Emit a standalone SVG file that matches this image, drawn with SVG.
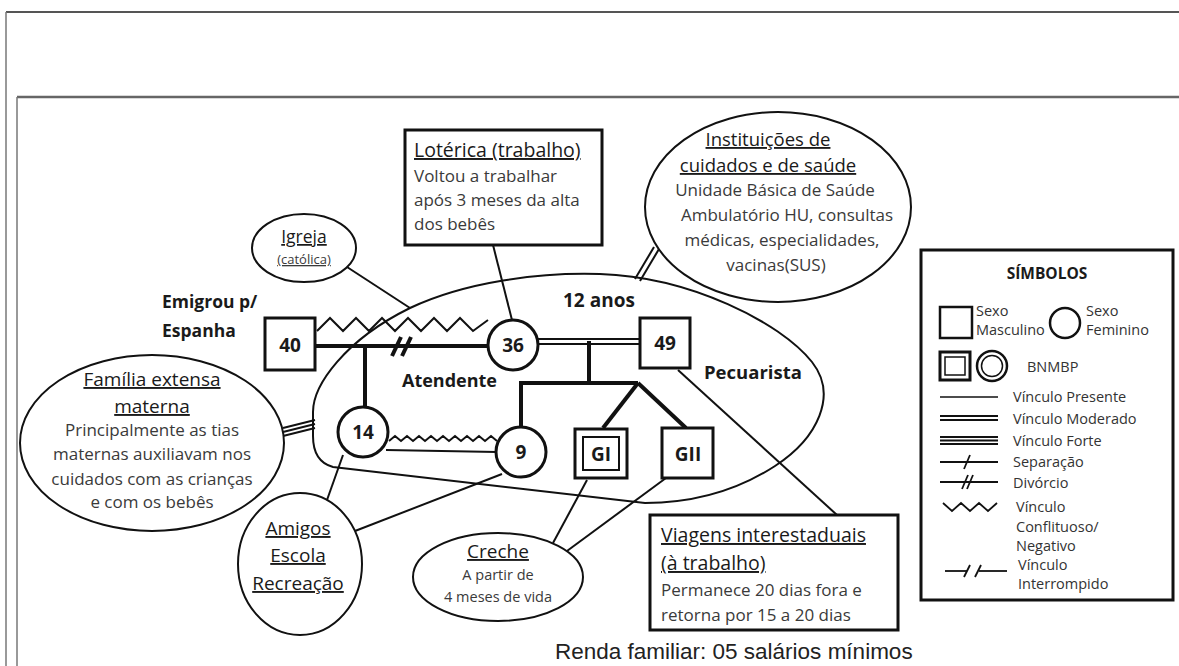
<svg xmlns="http://www.w3.org/2000/svg" width="1179" height="666" viewBox="0 0 1179 666">
<style>
.t{font-family:'Open Sans','Noto Sans','Liberation Sans',sans-serif;fill:#1a1a1a}
.b{font-weight:bold}
.u{text-decoration:underline}
.body{fill:#3a3a3a}
.c{text-anchor:middle}
.ln{stroke:#111;stroke-width:2;fill:none}
.th{stroke:#111;stroke-width:4;fill:none}
.nd{stroke:#111;stroke-width:3;fill:#fff}
.lg{font-family:'Open Sans','Noto Sans','Liberation Sans',sans-serif;fill:#333;font-size:14.5px}
</style>
<rect width="1179" height="666" fill="#fff"/>
<g id="frame">
<line x1="6" y1="12" x2="1179" y2="12" stroke="#555" stroke-width="2"/>
<line x1="6" y1="12" x2="6" y2="666" stroke="#777" stroke-width="1.5"/>
<line x1="17" y1="97" x2="1179" y2="97" stroke="#666" stroke-width="2.5"/>
<line x1="17" y1="97" x2="17" y2="666" stroke="#777" stroke-width="1.5"/>
</g>
<g id="connectors">
<path id="family-boundary" class="ln" d="M313,412 C313,385 345,340 410,308 C465,282 540,272 600,274 C690,277 780,322 812,362 C838,395 818,438 775,466 C735,492 690,503 645,503 L333,467 C318,463 313,450 313,436 Z"/>
<line class="ln" x1="347" y1="267" x2="410" y2="308"/>
<line class="ln" x1="493" y1="245" x2="512" y2="320"/>
<line class="ln" x1="635" y1="279" x2="654" y2="247"/>
<line class="ln" x1="640" y1="281" x2="659" y2="249"/>
<line class="ln" x1="283" y1="428" x2="315" y2="420" stroke-width="1.8"/>
<line class="ln" x1="283" y1="432" x2="315" y2="424" stroke-width="1.8"/>
<line class="ln" x1="283" y1="436" x2="315" y2="428" stroke-width="1.8"/>
<polyline class="ln" points="317,331 330,318 343,331 356,318 369,331 382,318 395,331 408,318 421,331 434,318 447,331 460,318 473,331 488,320"/>
<line class="th" x1="315" y1="346" x2="490" y2="346"/>
<line class="th" x1="392" y1="356" x2="401" y2="337" stroke-width="3"/>
<line class="th" x1="402" y1="356" x2="411" y2="337" stroke-width="3"/>
<line class="th" x1="365" y1="346" x2="365" y2="408"/>
<line class="ln" x1="538" y1="339" x2="640" y2="339"/>
<line class="ln" x1="538" y1="344" x2="640" y2="344"/>
<polyline class="th" points="589,341 589,383"/>
<polyline class="th" points="521,428 521,383 638,383"/>
<line class="th" x1="638" y1="383" x2="603" y2="428"/>
<line class="th" x1="638" y1="383" x2="686" y2="428"/>
<polyline class="ln" points="389,441 395,436 401,441 407,436 413,441 419,436 425,441 431,436 437,441 443,436 449,441 455,436 461,441 467,436 473,441 479,436 485,441 491,436 497,441"/>
<line class="ln" x1="386" y1="450" x2="497" y2="452"/>
<line class="ln" x1="678" y1="370" x2="837" y2="515"/>
<line class="ln" x1="587" y1="480" x2="553" y2="543"/>
<line class="ln" x1="666" y1="478" x2="567" y2="551"/>
<line class="ln" x1="502" y1="474" x2="355" y2="531"/>
<line class="ln" x1="343" y1="455" x2="327" y2="500"/>
</g>
<g id="igreja">
<ellipse class="ln" cx="304" cy="248" rx="52" ry="34"/>
<text class="t u c" x="304" y="243" font-size="17.5">Igreja</text>
<text class="t u c body" x="304" y="264" font-size="13">(católica)</text>
</g>
<g id="emigrou-label">
<text class="t b" x="162" y="308" font-size="17.5">Emigrou p/</text>
<text class="t b" x="162" y="337" font-size="17.5">Espanha</text>
</g>
<g id="loterica">
<rect class="nd" x="405" y="130" width="197" height="115"/>
<text class="t u" x="414" y="157" font-size="19.5">Lotérica (trabalho)</text>
<text class="t body" x="414" y="182" font-size="17">Voltou a trabalhar</text>
<text class="t body" x="414" y="206" font-size="17">após 3 meses da alta</text>
<text class="t body" x="414" y="230" font-size="17">dos bebês</text>
</g>
<g id="instituicoes">
<ellipse class="ln" cx="778" cy="207" rx="133" ry="95"/>
<text class="t u c" x="768" y="146" font-size="18.5">Instituições de</text>
<text class="t u c" x="768" y="172" font-size="18.5">cuidados e de saúde</text>
<text class="t c body" x="775" y="196" font-size="17">Unidade Básica de Saúde</text>
<text class="t c body" x="787" y="221" font-size="17">Ambulatório HU, consultas</text>
<text class="t c body" x="782" y="246" font-size="17">médicas, especialidades,</text>
<text class="t c body" x="776" y="271" font-size="17">vacinas(SUS)</text>
</g>
<g id="p40">
<rect class="nd" x="265" y="318" width="50" height="52" stroke-width="3.5"/>
<text class="t b c" x="290" y="352" font-size="19">40</text>
</g>
<g id="p36">
<circle class="nd" cx="513" cy="345" r="25"/>
<text class="t b c" x="513" y="352" font-size="19">36</text>
</g>
<g id="p49">
<rect class="nd" x="640" y="318" width="50" height="50" stroke-width="3.5"/>
<text class="t b c" x="665" y="350" font-size="19">49</text>
</g>
<g id="p14">
<circle class="nd" cx="363" cy="432" r="25"/>
<text class="t b c" x="363" y="439" font-size="19">14</text>
</g>
<g id="p9">
<circle class="nd" cx="521" cy="452" r="25"/>
<text class="t b c" x="521" y="459" font-size="19">9</text>
</g>
<g id="gI">
<rect class="nd" x="575" y="429" width="52" height="49" stroke-width="4"/>
<rect class="ln" x="583" y="437" width="36" height="33" stroke-width="1.8"/>
<text class="t b c" x="601" y="461" font-size="19">GI</text>
</g>
<g id="gII">
<rect class="nd" x="662" y="428" width="51" height="50" stroke-width="3.5"/>
<text class="t b c" x="688" y="461" font-size="19">GII</text>
</g>
<g id="labels">
<text class="t b" x="563" y="307" font-size="19">12 anos</text>
<text class="t b" x="402" y="387" font-size="18">Atendente</text>
<text class="t b" x="704" y="379" font-size="18.5">Pecuarista</text>
</g>
<g id="familia">
<ellipse class="ln" cx="152" cy="443" rx="132" ry="88"/>
<text class="t u c" x="152" y="386" font-size="19">Família extensa</text>
<text class="t u c" x="152" y="413" font-size="19">materna</text>
<text class="t c body" x="152" y="436" font-size="17">Principalmente as tias</text>
<text class="t c body" x="152" y="460" font-size="17">maternas auxiliavam nos</text>
<text class="t c body" x="152" y="485" font-size="17">cuidados com as crianças</text>
<text class="t c body" x="152" y="508" font-size="17">e com os bebês</text>
</g>
<g id="amigos">
<ellipse class="ln" cx="300" cy="564" rx="62" ry="71"/>
<text class="t u c" x="298" y="535" font-size="19">Amigos</text>
<text class="t u c" x="298" y="562" font-size="19">Escola</text>
<text class="t u c" x="298" y="590" font-size="19">Recreação</text>
</g>
<g id="creche">
<ellipse class="ln" cx="498" cy="577" rx="85" ry="44"/>
<text class="t u c" x="498" y="558" font-size="19">Creche</text>
<text class="t c body" x="498" y="580" font-size="14.5">A partir de</text>
<text class="t c body" x="498" y="602" font-size="14.5">4 meses de vida</text>
</g>
<g id="viagens">
<rect class="nd" x="650" y="515" width="248" height="115"/>
<text class="t u" x="661" y="542" font-size="19.5">Viagens interestaduais</text>
<text class="t u" x="661" y="570" font-size="19.5">(à trabalho)</text>
<text class="t body" x="661" y="596" font-size="17">Permanece 20 dias fora e</text>
<text class="t body" x="661" y="621" font-size="17">retorna por 15 a 20 dias</text>
</g>
<g id="renda">
<text x="555" y="659" font-family="'Liberation Sans',Arial,sans-serif" font-size="22.5" fill="#222">Renda familiar: 05 salários mínimos</text>
</g>
<g id="legenda">
<rect x="921" y="250" width="252" height="350" fill="#fff" stroke="#111" stroke-width="3"/>
<text class="t b c" x="1047" y="279" font-size="15.5">SÍMBOLOS</text>
<rect x="940" y="307" width="32" height="31" fill="none" stroke="#111" stroke-width="2.5"/>
<text class="lg" x="976" y="316" font-size="12.5">Sexo</text>
<text class="lg" x="976" y="335" font-size="12.5">Masculino</text>
<circle cx="1065" cy="323" r="15" fill="none" stroke="#111" stroke-width="2.5"/>
<text class="lg" x="1086" y="316" font-size="12.5">Sexo</text>
<text class="lg" x="1086" y="335" font-size="12.5">Feminino</text>
<rect x="940" y="352" width="30" height="28" fill="none" stroke="#111" stroke-width="3"/>
<rect x="945" y="357" width="20" height="18" fill="none" stroke="#111" stroke-width="1.5"/>
<circle cx="992" cy="366" r="15" fill="none" stroke="#111" stroke-width="2.5"/>
<circle cx="992" cy="366" r="10.5" fill="none" stroke="#111" stroke-width="1.5"/>
<text class="lg" x="1027" y="372" font-size="11.5">BNMBP</text>
<line x1="940" y1="397" x2="998" y2="397" stroke="#111" stroke-width="1.5"/>
<text class="lg" x="1013" y="402">Vínculo Presente</text>
<line x1="940" y1="416" x2="998" y2="416" stroke="#111" stroke-width="2"/>
<line x1="940" y1="420" x2="998" y2="420" stroke="#111" stroke-width="2"/>
<text class="lg" x="1013" y="424">Vínculo Moderado</text>
<line x1="940" y1="437" x2="998" y2="437" stroke="#111" stroke-width="1.8"/>
<line x1="940" y1="440.5" x2="998" y2="440.5" stroke="#111" stroke-width="1.8"/>
<line x1="940" y1="444" x2="998" y2="444" stroke="#111" stroke-width="1.8"/>
<text class="lg" x="1013" y="446">Vínculo Forte</text>
<line x1="940" y1="462" x2="998" y2="462" stroke="#111" stroke-width="2"/>
<line x1="964" y1="469" x2="970" y2="455" stroke="#111" stroke-width="1.8"/>
<text class="lg" x="1013" y="467">Separação</text>
<line x1="940" y1="482" x2="998" y2="482" stroke="#111" stroke-width="2"/>
<line x1="962" y1="489" x2="968" y2="475" stroke="#111" stroke-width="1.8"/>
<line x1="967" y1="489" x2="973" y2="475" stroke="#111" stroke-width="1.8"/>
<text class="lg" x="1013" y="488">Divórcio</text>
<polyline points="943,503 952,511 961,503 970,511 979,503 988,511 997,503" fill="none" stroke="#111" stroke-width="1.8"/>
<text class="lg" x="1016" y="512">Vínculo</text>
<text class="lg" x="1016" y="532">Conflituoso/</text>
<text class="lg" x="1016" y="551">Negativo</text>
<line x1="945" y1="571" x2="967" y2="571" stroke="#111" stroke-width="1.8"/>
<line x1="964" y1="577" x2="970" y2="565" stroke="#111" stroke-width="1.8"/>
<line x1="975" y1="577" x2="981" y2="565" stroke="#111" stroke-width="1.8"/>
<line x1="979" y1="571" x2="1007" y2="571" stroke="#111" stroke-width="1.8"/>
<text class="lg" x="1018" y="570">Vínculo</text>
<text class="lg" x="1018" y="589">Interrompido</text>
</g>
</svg>
